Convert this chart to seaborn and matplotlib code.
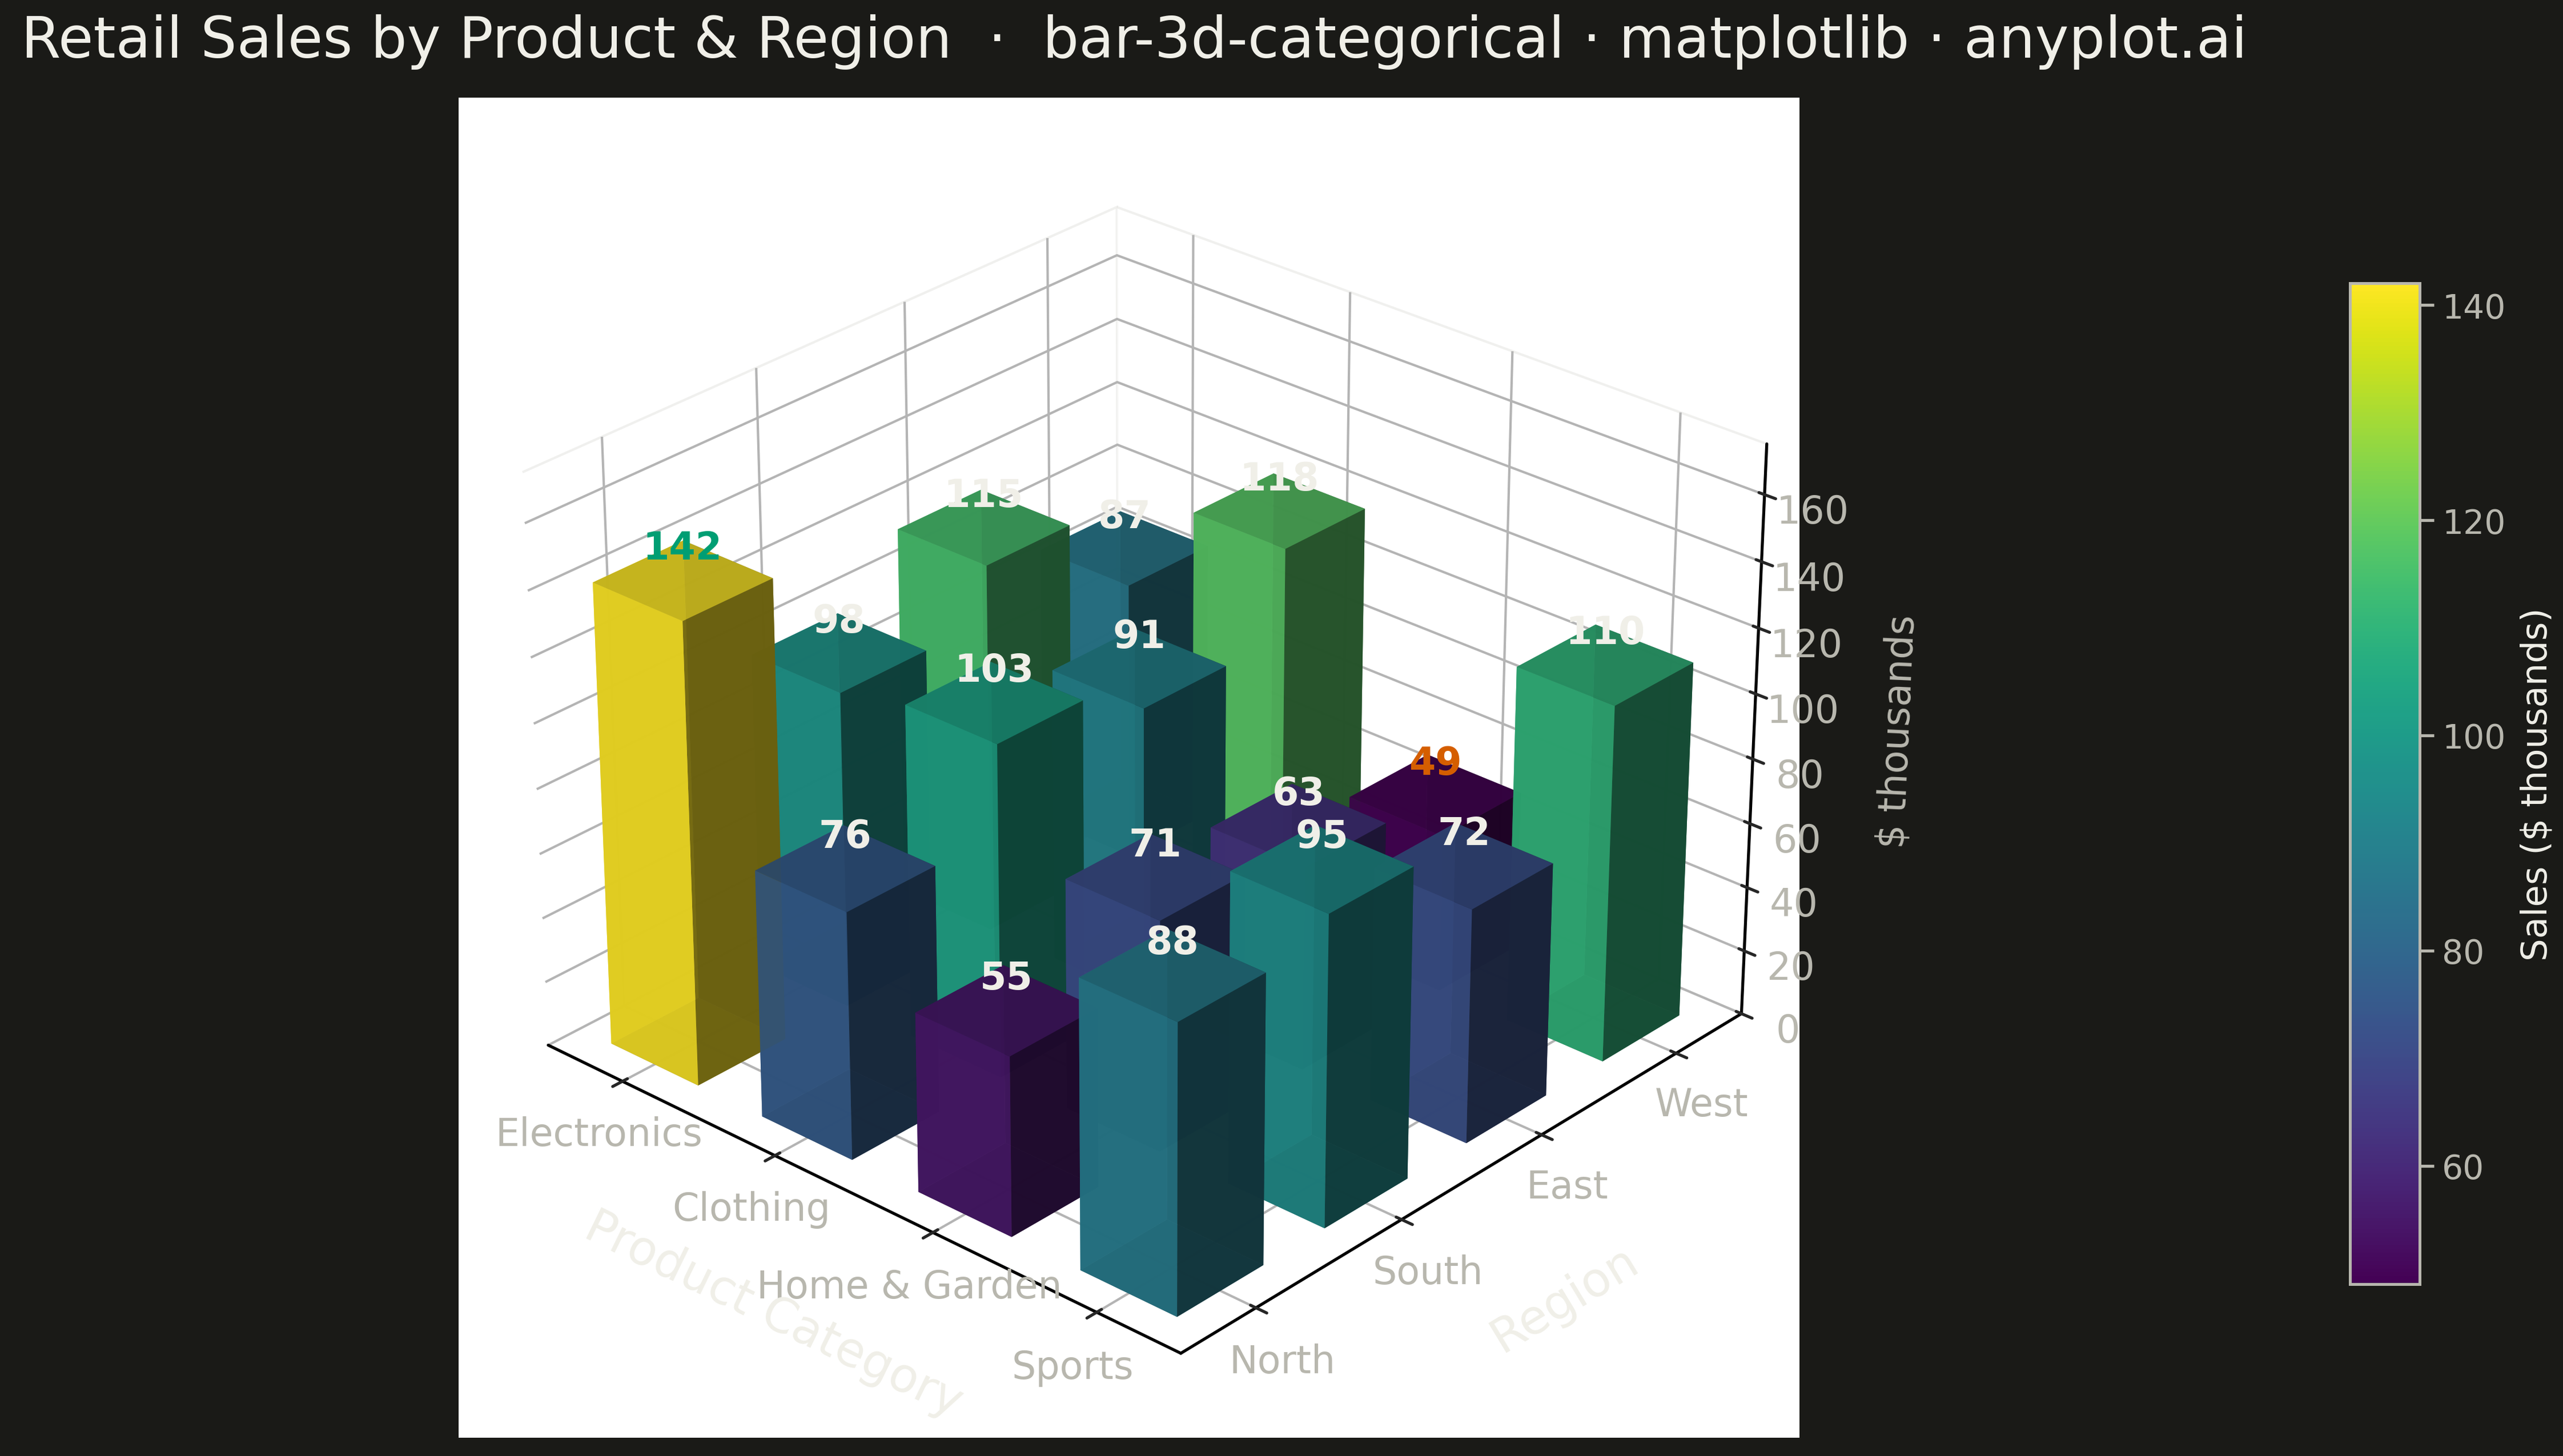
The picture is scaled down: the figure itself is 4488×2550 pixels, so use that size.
import numpy as np
import matplotlib
matplotlib.use("Agg")
import matplotlib.pyplot as plt
import seaborn as sns
from matplotlib import colors as mcolors
from matplotlib import cm

# Data ($ thousands), one list per product, regions in order
products = ["Electronics", "Clothing", "Home & Garden", "Sports"]
regions = ["North", "South", "East", "West"]
electronics = [142, 98, 115, 87]
clothing = [76, 103, 91, 118]
home_garden = [55, 71, 63, 49]
sports = [88, 95, 72, 110]

BG = "#1A1A17"
INK = "#F0EFE8"
MUTED = "#B8B7AE"
HI_MAX = "#009E73"
HI_MIN = "#D55E00"

sns.set_theme(style="white")
plt.rcParams.update({
    "figure.facecolor": BG,
    "savefig.facecolor": BG,
    "axes.facecolor": "white",
    "axes.edgecolor": "black",
    "grid.color": "#B4B4B4",
    "grid.linewidth": 1.0,
    "text.color": INK,
})
plt.rcParams["font.family"] = ["DejaVu Sans"]

sales = np.array([electronics, clothing, home_garden, sports], dtype=float)
xi, yi = np.meshgrid(np.arange(len(products)), np.arange(len(regions)), indexing="ij")
xs = xi.ravel().astype(float)
ys = yi.ravel().astype(float)
zs = sales.ravel()

cmap = sns.color_palette("viridis", as_cmap=True)
norm = mcolors.Normalize(vmin=zs.min(), vmax=zs.max())
bar_colors = [cmap(norm(v)) for v in zs]

fig = plt.figure(figsize=(14.96, 8.5033), dpi=300)
ax = fig.add_axes([0.179, 0.012, 0.523, 0.921], projection="3d")
ax.set_facecolor("white")

w = 0.58
ax.bar3d(xs - w / 2, ys - w / 2, np.zeros_like(zs), w, w, zs,
         color=bar_colors, alpha=0.9, shade=True,
         edgecolor="none", linewidth=0)

# Value labels, max and min highlighted
for x, y, v in zip(xs, ys, zs):
    c = INK
    if v == zs.max():
        c = HI_MAX
    elif v == zs.min():
        c = HI_MIN
    ax.text(x, y, v + 4, f"{int(v)}", ha="center", va="bottom",
            fontsize=16, fontweight="bold", color=c, zorder=10)

ax.set_xlim(-0.5, 3.5)
ax.set_ylim(-0.5, 3.5)
ax.set_zlim(0, 175)
ax.set_xticks(range(len(products)))
ax.set_xticklabels(products)
ax.set_yticks(range(len(regions)))
ax.set_yticklabels(regions)
ax.set_zticks(range(0, 161, 20))

ax.tick_params(axis="x", labelsize=16, labelcolor=MUTED)
ax.tick_params(axis="y", labelsize=16, labelcolor=MUTED)
ax.tick_params(axis="z", labelsize=16, labelcolor=MUTED)

ax.set_xlabel("Product Category", fontsize=20, color=INK, labelpad=18)
ax.set_ylabel("Region", fontsize=20, color=INK, labelpad=20)
ax.set_zlabel("$ thousands", fontsize=16, color=MUTED, labelpad=14)

for axis in (ax.xaxis, ax.yaxis, ax.zaxis):
    axis.pane.set_facecolor("white")
    axis.pane.set_edgecolor("#E2E2DE")
    axis.pane.fill = True

ax.zaxis.set_ticks_position("upper")
ax.zaxis.set_label_position("upper")
ax.view_init(elev=28, azim=-48)

# Colorbar
cax = fig.add_axes([0.917, 0.118, 0.027, 0.687])
sm = cm.ScalarMappable(norm=norm, cmap=cmap)
cb = fig.colorbar(sm, cax=cax)
cb.set_ticks([60, 80, 100, 120, 140])
cb.ax.tick_params(labelsize=14, colors=MUTED)
cb.outline.set_edgecolor(MUTED)
cb.outline.set_linewidth(1.2)
cb.set_label("Sales ($ thousands)", fontsize=15, color=INK, labelpad=6)

fig.text(37 / 4488, 1 - 25 / 2551,
         "Retail Sales by Product & Region  \u00b7  bar-3d-categorical \u00b7 matplotlib \u00b7 anyplot.ai",
         ha="left", va="top", fontsize=24, color=INK)

fig.savefig("out.png", dpi=300, facecolor=BG)
